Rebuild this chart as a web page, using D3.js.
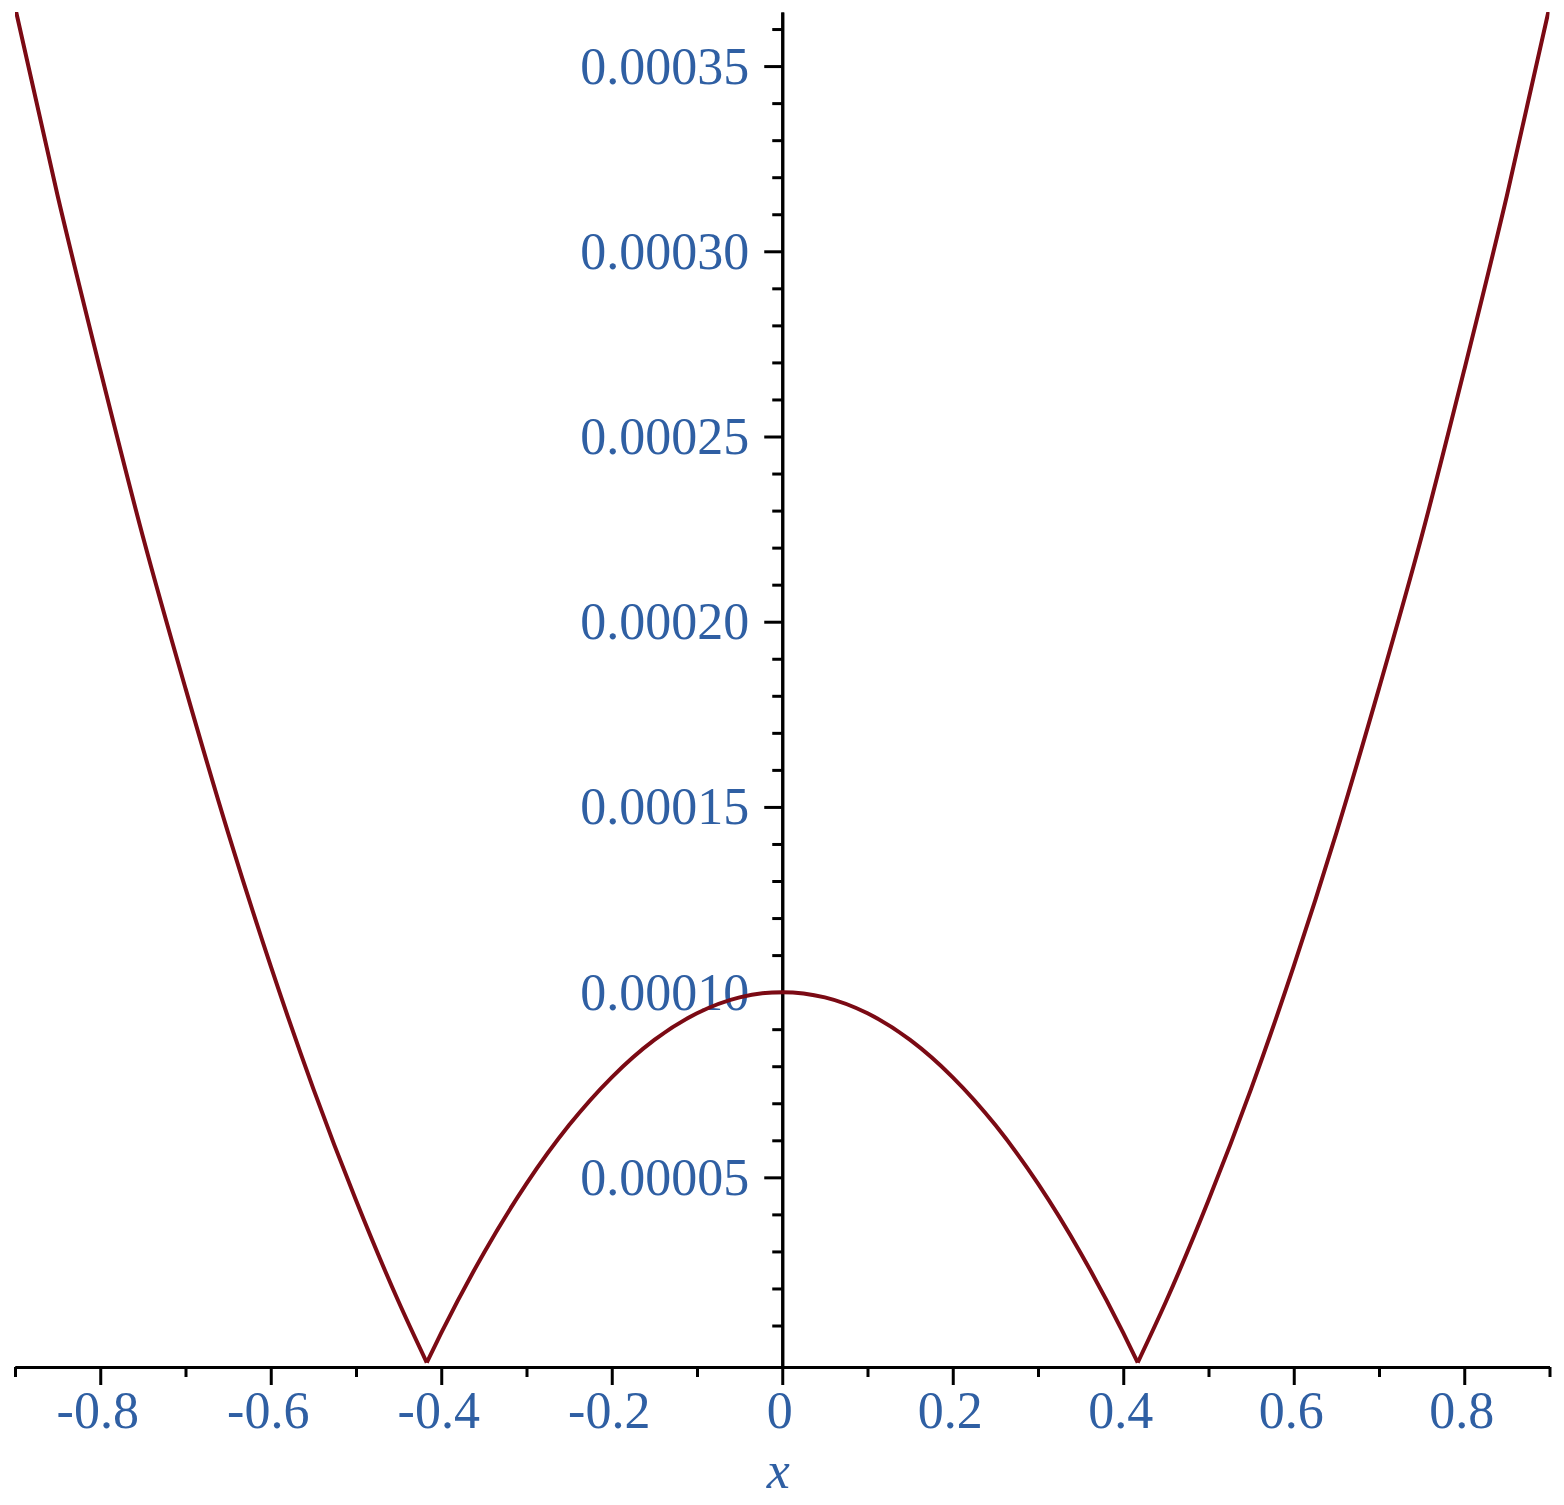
<!DOCTYPE html>
<html>
<head>
<meta charset="utf-8">
<script src="https://cdn.jsdelivr.net/npm/d3@7"></script>
<style>
  html, body { margin: 0; padding: 0; background: #ffffff; }
  svg { display: block; }
</style>
</head>
<body>
<svg id="chart" width="1564" height="1505"></svg>
<script>
// ---- data ----
const xValues = [-0.9, -0.85, -0.8, -0.75, -0.7, -0.65, -0.6, -0.55, -0.5, -0.45, -0.417,
  -0.4, -0.35, -0.3, -0.25, -0.2, -0.15, -0.1, -0.05, 0, 0.05, 0.1, 0.15, 0.2, 0.25, 0.3, 0.35, 0.4,
  0.417, 0.45, 0.5, 0.55, 0.6, 0.65, 0.7, 0.75, 0.8, 0.85, 0.9];
const yValues = [0.000366, 0.000315, 0.000268, 0.000223, 0.000182, 0.000143, 0.000107, 0.0000739, 0.0000438, 0.0000164, 0,
  0.0000080, 0.0000296, 0.0000483, 0.0000641, 0.0000770, 0.0000871, 0.0000943, 0.0000986, 0.0001, 0.0000986, 0.0000943, 0.0000871, 0.0000770, 0.0000641, 0.0000483, 0.0000296, 0.0000080,
  0, 0.0000164, 0.0000438, 0.0000739, 0.000107, 0.000143, 0.000182, 0.000223, 0.000268, 0.000315, 0.000366];

const xMajorTicks = [-0.8, -0.6, -0.4, -0.2, 0, 0.2, 0.4, 0.6, 0.8];
const xMajorLabels = ["-0.8", "-0.6", "-0.4", "-0.2", "0", "0.2", "0.4", "0.6", "0.8"];
const xMinorTicks = [-0.9, -0.7, -0.5, -0.3, -0.1, 0.1, 0.3, 0.5, 0.7, 0.9];
const yMajorTicks = [0.00005, 0.0001, 0.00015, 0.0002, 0.00025, 0.0003, 0.00035];
const yMajorLabels = ["0.00005", "0.00010", "0.00015", "0.00020", "0.00025", "0.00030", "0.00035"];
const yMinorTicks = d3.range(1, 37).filter(i => i % 5 !== 0).map(i => i * 0.00001);
const xDomain = [-0.9, 0.9];
const yDomain = [-0.0000012, 0.0003646];
const xTitle = "x";

// ---- layout ----
const svg = d3.select("#chart");
const x = d3.scaleLinear().domain(xDomain).range([15, 1549.5]);
const y = d3.scaleLinear().domain(yDomain).range([1367, 12]);
const labelColor = "#2f5fa3";
const curveColor = "#7b0a14";
const font = "'Liberation Serif', 'Times New Roman', serif";

const x0 = x(0);
const yBase = y(yDomain[0]);

function styleAxis(g) {
  g.select(".domain").attr("stroke", "#000").attr("stroke-width", 3);
  g.selectAll(".tick line").attr("stroke", "#000").attr("stroke-width", 3);
}

// x axis minor
svg.append("g").attr("transform", `translate(0,${yBase})`)
  .call(d3.axisBottom(x).tickValues(xMinorTicks).tickSize(10).tickSizeOuter(0).tickFormat(""))
  .call(styleAxis);
// x axis major
const gx = svg.append("g").attr("transform", `translate(0,${yBase})`)
  .call(d3.axisBottom(x).tickValues(xMajorTicks).tickSize(18).tickSizeOuter(0)
    .tickFormat((d, i) => xMajorLabels[i]))
  .call(styleAxis);
gx.selectAll(".tick text")
  .attr("y", 61).attr("dy", 0).attr("dx", -3)
  .attr("fill", labelColor)
  .style("font-family", font).style("font-size", "52px");

// y axis minor
svg.append("g").attr("transform", `translate(${x0},0)`)
  .call(d3.axisLeft(y).tickValues(yMinorTicks).tickSize(10).tickSizeOuter(0).tickFormat(""))
  .call(styleAxis);
// y axis major
const gy = svg.append("g").attr("transform", `translate(${x0},0)`)
  .call(d3.axisLeft(y).tickValues(yMajorTicks).tickSize(18).tickSizeOuter(0)
    .tickFormat((d, i) => yMajorLabels[i]))
  .call(styleAxis);
gy.selectAll(".tick text")
  .attr("x", -33).attr("dy", 0).attr("y", 17)
  .attr("text-anchor", "end")
  .attr("fill", labelColor)
  .style("font-family", font).style("font-size", "52px");

// axis title
svg.append("text")
  .attr("x", x0 - 4).attr("y", 1488)
  .attr("text-anchor", "middle")
  .attr("fill", labelColor)
  .style("font-family", font).style("font-style", "italic").style("font-size", "52px")
  .text(xTitle);

// ---- curve ----
svg.append("defs").append("clipPath").attr("id", "plotclip")
  .append("rect").attr("x", x.range()[0]).attr("y", y.range()[1])
  .attr("width", x.range()[1] - x.range()[0]).attr("height", y.range()[0] - y.range()[1]);

const pts = xValues.map((v, i) => [v, yValues[i]]);
const segments = [];
let cur = [];
pts.forEach((p, i) => {
  cur.push(p);
  if (p[1] === 0 && i > 0 && i < pts.length - 1) {
    segments.push(cur);
    cur = [p];
  }
});
segments.push(cur);

const line = d3.line().x(d => x(d[0])).y(d => y(d[1])).curve(d3.curveMonotoneX);
svg.append("g").attr("clip-path", "url(#plotclip)")
  .selectAll("path").data(segments).join("path")
  .attr("d", line)
  .attr("fill", "none")
  .attr("stroke", curveColor)
  .attr("stroke-width", 4)
  .attr("stroke-linejoin", "miter");
</script>
</body>
</html>
